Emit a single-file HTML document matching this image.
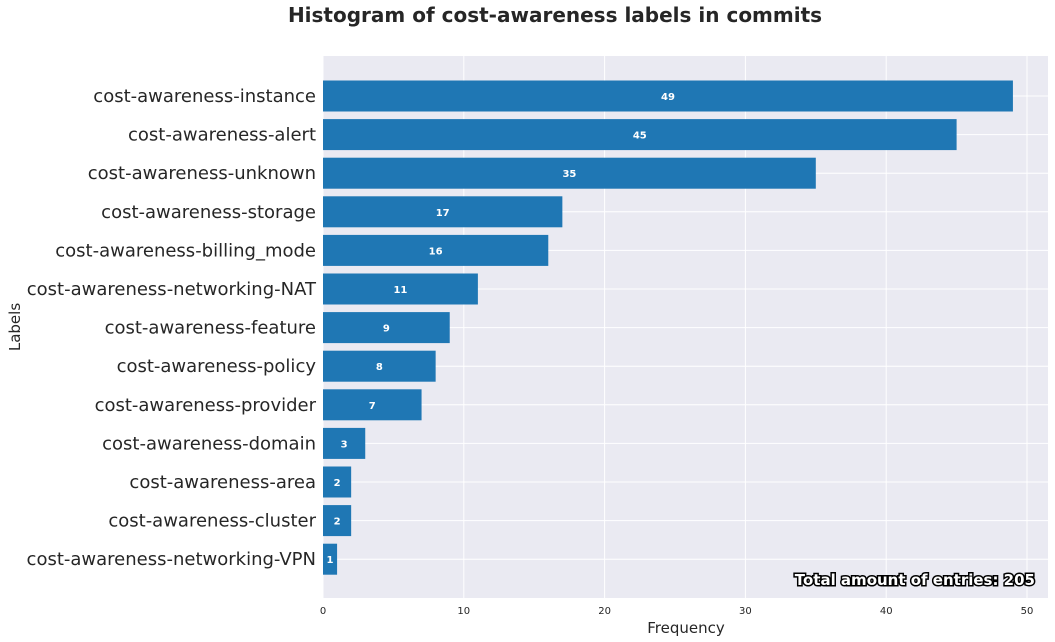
<!DOCTYPE html>
<html><head><meta charset="utf-8"><style>
body{margin:0;background:#fff;font-family:"DejaVu Sans","Liberation Sans",sans-serif;}
svg{display:block}
</style></head><body>
<svg id="c" width="1055" height="642" xmlns="http://www.w3.org/2000/svg">
<text x="555" y="22" text-anchor="middle" font-size="20" font-weight="bold" fill="#262626">Histogram of cost-awareness labels in commits</text>
<rect x="323" y="56" width="725" height="542" fill="#eaeaf2"/>
<g id="grid"></g><g id="bars"></g><g id="ticks"></g>
<text x="686" y="633" text-anchor="middle" font-size="15" fill="#262626">Frequency</text>
<text x="20" y="327" text-anchor="middle" font-size="15" fill="#262626" transform="rotate(-90 20 327)">Labels</text>
<text x="1035" y="585" text-anchor="end" font-size="15" font-weight="bold" fill="#fff" stroke="#000" stroke-width="3" paint-order="stroke">Total amount of entries: 205</text>
</svg>
<script>
const categories=["cost-awareness-instance","cost-awareness-alert","cost-awareness-unknown","cost-awareness-storage","cost-awareness-billing_mode","cost-awareness-networking-NAT","cost-awareness-feature","cost-awareness-policy","cost-awareness-provider","cost-awareness-domain","cost-awareness-area","cost-awareness-cluster","cost-awareness-networking-VPN"];
const values=[49,45,35,17,16,11,9,8,7,3,2,2,1];
const xTicks=[0,10,20,30,40,50];
const NS="http://www.w3.org/2000/svg";
const x=v=>323+v*14.08;
const y=i=>96+i*38.6;
const bh=31;
function mk(t,a,p){const e=document.createElementNS(NS,t);for(const k in a)e.setAttribute(k,a[k]);document.getElementById(p).appendChild(e);return e;}
xTicks.forEach(t=>{
 const l=mk('line',{x1:x(t),x2:x(t),y1:56,y2:598,stroke:'#fff','stroke-width':1},'grid');
 
 
 const tx=mk('text',{x:x(t),y:614,'text-anchor':'middle','font-size':10,fill:'#262626'},'ticks');
 tx.textContent=t;
 
 
});
categories.forEach((c,i)=>{
 const l=mk('line',{x1:323,x2:1048,y1:y(i),y2:y(i),stroke:'#fff','stroke-width':1},'grid');
 
 
 const r=mk('rect',{x:x(0),y:y(i)-bh/2,width:x(values[i])-x(0),height:bh,fill:'#1f77b4'},'bars');
 
 
 const v=mk('text',{x:(x(0)+x(values[i]))/2,y:y(i)+4,'text-anchor':'middle','font-size':10,'font-weight':'bold',fill:'#fff'},'bars');
 v.textContent=values[i];
 
 
 const t=mk('text',{x:316,y:y(i)+6,'text-anchor':'end','font-size':18,fill:'#262626'},'ticks');
 t.textContent=c;
 
 
});
</script>
</body></html>
